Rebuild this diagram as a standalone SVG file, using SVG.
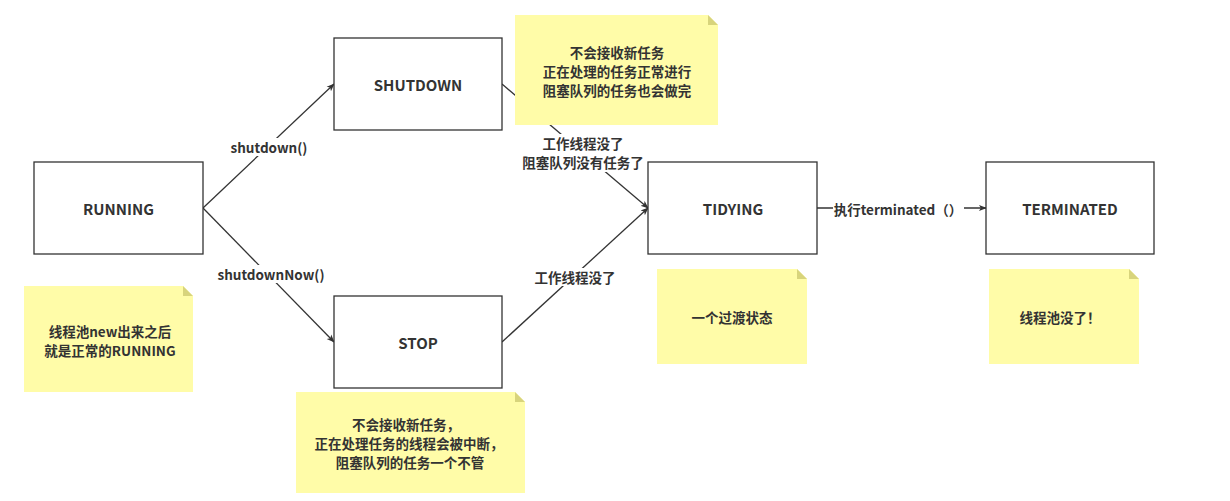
<svg xmlns="http://www.w3.org/2000/svg" width="1230" height="501" viewBox="0 0 1230 501">
<defs>
<style>
.node rect{fill:#ffffff;stroke:#333333;stroke-width:1.3}
.t{font-family:"Noto Sans CJK SC","Microsoft YaHei",sans-serif;font-weight:bold;font-size:13.5px;fill:#333333;text-anchor:middle;dominant-baseline:central}
.nt{font-size:15px}
.note .b{fill:#fffca8}
.note .f{fill:#d8d47c}
.edge{fill:none;stroke:#333333;stroke-width:1.3}
.lbg{fill:#ffffff}
</style>
<marker id="arr" viewBox="0 0 10 10" refX="9" refY="5" markerWidth="8" markerHeight="8" markerUnits="userSpaceOnUse" orient="auto">
<path d="M0,1 L10,5 L0,9 L2.5,5 Z" fill="#333333"/>
</marker>
</defs>
<rect width="1230" height="501" fill="#ffffff"/>

<g id="connectors">
<path class="edge" d="M203,208 L334,84" marker-end="url(#arr)"/>
<path class="edge" d="M203,208 L334,342" marker-end="url(#arr)"/>
<path class="edge" d="M502,84 L648,208" marker-end="url(#arr)"/>
<path class="edge" d="M502,342 L648,208" marker-end="url(#arr)"/>
<path class="edge" d="M817,208 L986,208" marker-end="url(#arr)"/>
<rect class="lbg" x="226" y="138" width="86" height="18"/>
<text class="t" x="269" y="147">shutdown()</text>
<rect class="lbg" x="208" y="265" width="126" height="18"/>
<text class="t" x="271" y="274">shutdownNow()</text>
<rect class="lbg" x="516" y="134" width="134" height="38"/>
<text class="t" x="583" y="143">工作线程没了</text>
<text class="t" x="583" y="162">阻塞队列没有任务了</text>
<rect class="lbg" x="531" y="268" width="88" height="18"/>
<text class="t" x="575" y="277">工作线程没了</text>
<rect class="lbg" x="833" y="199" width="131" height="19"/>
<text class="t" x="898" y="209">执行terminated（）</text>
</g>

<g id="RUNNING" class="node"><rect x="34" y="162" width="169" height="92"/><text class="t nt" x="118.5" y="208">RUNNING</text></g>
<g id="SHUTDOWN" class="node"><rect x="334" y="38" width="168" height="92"/><text class="t nt" x="418" y="84">SHUTDOWN</text></g>
<g id="STOP" class="node"><rect x="334" y="296" width="168" height="92"/><text class="t nt" x="418" y="342">STOP</text></g>
<g id="TIDYING" class="node"><rect x="648" y="162" width="169" height="92"/><text class="t nt" x="733" y="208">TIDYING</text></g>
<g id="TERMINATED" class="node"><rect x="986" y="162" width="168" height="92"/><text class="t nt" x="1070" y="208">TERMINATED</text></g>

<g id="note-running" class="note">
<path class="b" d="M24,286 L183,286 L193,296 L193,392 L24,392 Z"/>
<path class="f" d="M183,286 L193,296 L183,296 Z"/>
<text class="t" x="110" y="331">线程池new出来之后</text>
<text class="t" x="110" y="350">就是正常的RUNNING</text>
</g>
<g id="note-shutdown" class="note">
<path class="b" d="M515,15 L708,15 L718,25 L718,125 L515,125 Z"/>
<path class="f" d="M708,15 L718,25 L708,25 Z"/>
<text class="t" x="617" y="52">不会接收新任务</text>
<text class="t" x="617" y="71">正在处理的任务正常进行</text>
<text class="t" x="617" y="90">阻塞队列的任务也会做完</text>
</g>
<g id="note-stop" class="note">
<path class="b" d="M296,392 L515,392 L525,402 L525,493 L296,493 Z"/>
<path class="f" d="M515,392 L525,402 L515,402 Z"/>
<text class="t" x="406" y="424">不会接收新任务，</text>
<text class="t" x="409" y="443">正在处理任务的线程会被中断，</text>
<text class="t" x="410" y="462">阻塞队列的任务一个不管</text>
</g>
<g id="note-tidying" class="note">
<path class="b" d="M657,269 L797,269 L807,279 L807,364 L657,364 Z"/>
<path class="f" d="M797,269 L807,279 L797,279 Z"/>
<text class="t" x="732" y="317">一个过渡状态</text>
</g>
<g id="note-terminated" class="note">
<path class="b" d="M989,269 L1129,269 L1139,279 L1139,364 L989,364 Z"/>
<path class="f" d="M1129,269 L1139,279 L1129,279 Z"/>
<text class="t" x="1060" y="317">线程池没了！</text>
</g>
</svg>
